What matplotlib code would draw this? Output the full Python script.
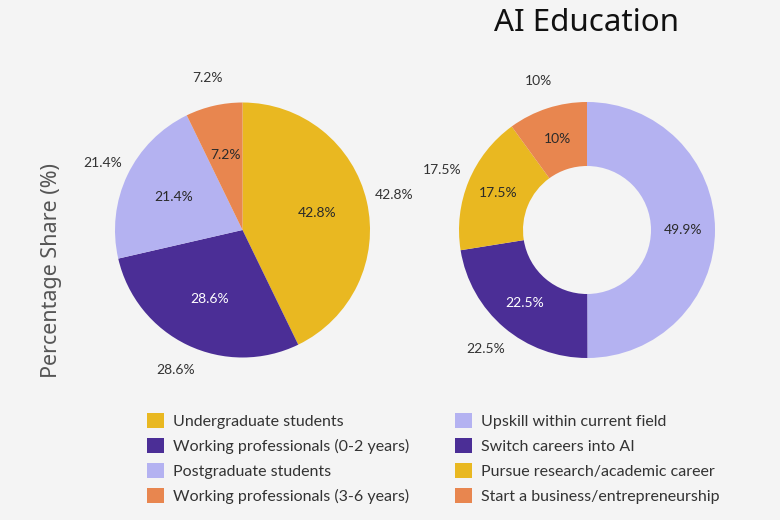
import matplotlib
matplotlib.use("Agg")
import matplotlib.pyplot as plt

# Data
audience_labels = ["Undergraduate students", "Working professionals (0-2 years)",
                   "Postgraduate students", "Working professionals (3-6 years)"]
audience_values = [42.8, 28.6, 21.4, 7.2]
audience_colors = ["#E9B821", "#4B2E96", "#B4B2F1", "#E8864F"]

goal_labels = ["Upskill within current field", "Switch careers into AI",
               "Pursue research/academic career", "Start a business/entrepreneurship"]
goal_values = [49.9, 22.5, 17.5, 10.0]
goal_colors = ["#B4B2F1", "#4B2E96", "#E9B821", "#E8864F"]

title = "AI Education"
ylabel = "Percentage Share (%)"

BG = "#F4F4F4"
W, H = 780, 520
fig = plt.figure(figsize=(7.8, 5.2), dpi=100, facecolor=BG)


def fmt(v):
    return f"{v:g}%"


def px_axes(cx, cy, r, span=1.5):
    s = 2 * r * span
    return fig.add_axes([(cx - s / 2) / W, (H - cy - s / 2) / H, s / W, s / H])


# Left pie
ax1 = px_axes(242.5, 230, 127.5)
ax1.set_facecolor("none")
w1, t1, a1 = ax1.pie(audience_values, colors=audience_colors, startangle=90,
                     counterclock=False, labels=[fmt(v) for v in audience_values],
                     labeldistance=1.22, autopct=lambda p: "", pctdistance=0.6,
                     wedgeprops=dict(linewidth=0))
for t, v in zip(t1, audience_values):
    t.set_ha("center")
    t.set_va("center")
    t.set_fontsize(10)
    t.set_color("#333333")
    t.set_fontfamily("Lato")
for a, v, c in zip(a1, audience_values, audience_colors):
    a.set_text(fmt(v))
    a.set_fontsize(10)
    a.set_fontfamily("Lato")
    a.set_color("white" if c == "#4B2E96" else "#2a2a2a")
ax1.set_xlim(-1.5, 1.5)
ax1.set_ylim(-1.5, 1.5)
ax1.set_aspect("equal")

# Right donut
ax2 = px_axes(587, 230, 128)
ax2.set_facecolor("none")
goal_outer = ["" if v > 40 else fmt(v) for v in goal_values]
w2, t2, a2 = ax2.pie(goal_values, colors=goal_colors, startangle=90,
                     counterclock=False, labels=goal_outer,
                     labeldistance=1.22, autopct=lambda p: "", pctdistance=0.75,
                     wedgeprops=dict(width=0.5, linewidth=0))
for t in t2:
    t.set_ha("center")
    t.set_va("center")
    t.set_fontsize(10)
    t.set_color("#333333")
    t.set_fontfamily("Lato")
for a, v, c in zip(a2, goal_values, goal_colors):
    a.set_text(fmt(v))
    a.set_fontsize(10)
    a.set_fontfamily("Lato")
    a.set_color("white" if c == "#4B2E96" else "#2a2a2a")
ax2.set_xlim(-1.5, 1.5)
ax2.set_ylim(-1.5, 1.5)
ax2.set_aspect("equal")

# Title & y label
fig.text(586 / W, 1 - 23 / H, title, ha="center", va="center",
         fontsize=22.5, fontfamily="Noto Sans", color="#111111")
fig.text(52 / W, 1 - 270 / H, ylabel, ha="center", va="center", rotation=90,
         fontsize=15.5, fontfamily="Noto Sans", color="#555555")

# Legends
leg_kw = dict(frameon=False, handlelength=1.05, handleheight=1.05,
              handletextpad=0.6, labelspacing=0.58, borderpad=0, borderaxespad=0,
              prop=dict(family="Lato", size=11.5))
leg1 = fig.legend(w1, audience_labels, loc="upper left",
                  bbox_to_anchor=(147 / W, 1 - 413 / H), **leg_kw)
leg2 = fig.legend(w2, goal_labels, loc="upper left",
                  bbox_to_anchor=(455 / W, 1 - 413 / H), **leg_kw)
for leg in (leg1, leg2):
    for txt in leg.get_texts():
        txt.set_color("#333333")

fig.savefig("out.png", dpi=100, facecolor=BG)
